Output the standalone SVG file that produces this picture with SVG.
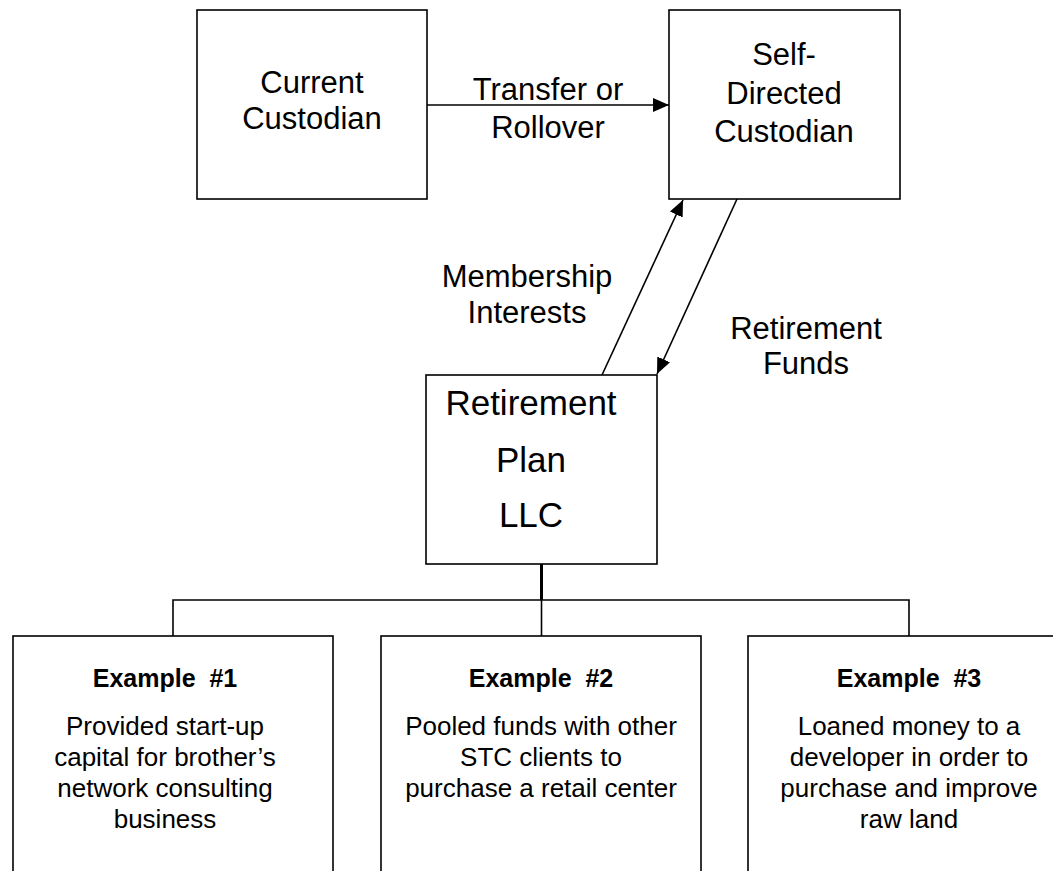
<svg xmlns="http://www.w3.org/2000/svg" width="1053" height="871" viewBox="0 0 1053 871">
<defs>
<style>
.box{fill:#fff;stroke:#000;stroke-width:1.6}
.t{font-family:"Liberation Sans",Arial,sans-serif;fill:#000;text-anchor:middle}
.l{font-size:31px}
.big{font-size:35px}
.h{font-size:25px;font-weight:bold;white-space:pre}
.b{font-size:26px}
.ln{stroke:#000;stroke-width:1.6;fill:none}
</style>
<marker id="ah" viewBox="0 0 16 16" refX="16" refY="8" markerWidth="16" markerHeight="16" markerUnits="userSpaceOnUse" orient="auto">
<path d="M0,1 L16,8 L0,15 Z" fill="#000"/>
</marker>
</defs>
<rect width="1053" height="871" fill="#fff"/>
<g id="connectors">
<line class="ln" x1="427" y1="105" x2="669" y2="105" marker-end="url(#ah)"/>
<line class="ln" x1="602" y1="375" x2="683" y2="200" marker-end="url(#ah)"/>
<line class="ln" x1="737" y1="199" x2="657" y2="374" marker-end="url(#ah)"/>
<line class="ln" x1="541.5" y1="564" x2="541.5" y2="600" style="stroke-width:3"/>
<line class="ln" x1="541.5" y1="600" x2="541.5" y2="636"/>
<polyline class="ln" points="173,636 173,600 909,600 909,636"/>
<text class="t l" x="548" y="100">Transfer or</text>
<text class="t l" x="548" y="138">Rollover</text>
<text class="t l" x="527" y="287">Membership</text>
<text class="t l" x="527" y="323">Interests</text>
<text class="t l" x="806" y="339">Retirement</text>
<text class="t l" x="806" y="374">Funds</text>
</g>
<g id="current">
<rect class="box" x="197" y="10" width="230" height="189"/>
<text class="t l" x="312" y="93">Current</text>
<text class="t l" x="312" y="129">Custodian</text>
</g>
<g id="selfdirected">
<rect class="box" x="669" y="10" width="231" height="189"/>
<text class="t l" x="784" y="65">Self-</text>
<text class="t l" x="784" y="104">Directed</text>
<text class="t l" x="784" y="142">Custodian</text>
</g>
<g id="llc">
<rect class="box" x="426" y="375" width="231" height="189"/>
<text class="t big" x="531" y="415">Retirement</text>
<text class="t big" x="531" y="472">Plan</text>
<text class="t big" x="531" y="527">LLC</text>
</g>
<g id="ex1">
<rect class="box" x="13" y="636" width="320" height="260"/>
<text class="t h" x="165" y="687">Example  #1</text>
<text class="t b" x="165" y="735">Provided start-up</text>
<text class="t b" x="165" y="766">capital for brother’s</text>
<text class="t b" x="165" y="797">network consulting</text>
<text class="t b" x="165" y="828">business</text>
</g>
<g id="ex2">
<rect class="box" x="381" y="636" width="320" height="260"/>
<text class="t h" x="541" y="687">Example  #2</text>
<text class="t b" x="541" y="735">Pooled funds with other</text>
<text class="t b" x="541" y="766">STC clients to</text>
<text class="t b" x="541" y="797">purchase a retail center</text>
</g>
<g id="ex3">
<rect class="box" x="748" y="636" width="320" height="260"/>
<text class="t h" x="909" y="687">Example  #3</text>
<text class="t b" x="909" y="735">Loaned money to a</text>
<text class="t b" x="909" y="766">developer in order to</text>
<text class="t b" x="909" y="797">purchase and improve</text>
<text class="t b" x="909" y="828">raw land</text>
</g>
</svg>
